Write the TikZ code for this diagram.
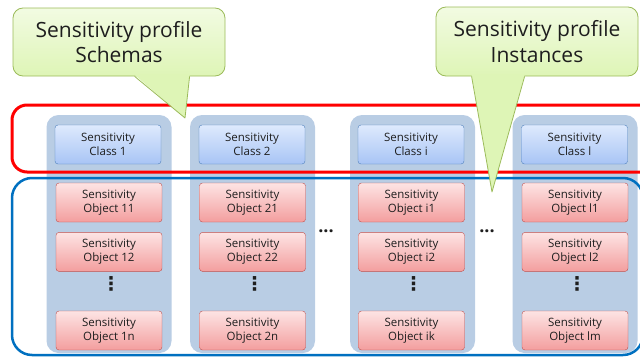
\documentclass[tikz,border=0pt]{standalone}
\usepackage{fontspec}
\setmainfont{Open Sans}
\newfontfamily\symfont{DejaVu Sans}
\usepackage{xcolor}
\usetikzlibrary{shapes,arrows.meta,positioning,calc,fit}

\definecolor{colbg}{RGB}{185,205,228}
\definecolor{clstop}{RGB}{222,234,253}
\definecolor{clsbot}{RGB}{168,196,245}
\definecolor{clsline}{RGB}{79,129,189}
\definecolor{objtop}{RGB}{253,228,228}
\definecolor{objbot}{RGB}{243,158,158}
\definecolor{objline}{RGB}{192,80,77}
\definecolor{calltop}{RGB}{242,251,226}
\definecolor{callbot}{RGB}{222,245,182}
\definecolor{callline}{RGB}{155,187,89}
\definecolor{frameblue}{RGB}{0,112,192}
\definecolor{txt}{RGB}{30,30,30}

\begin{document}
\begin{tikzpicture}[
    x=1pt, y=1pt,
    column/.style={rectangle, rounded corners=12pt, fill=colbg, minimum width=125pt, minimum height=238pt},
    cls/.style={rectangle, rounded corners=3pt, draw=clsline, top color=clstop, bottom color=clsbot,
        minimum width=106pt, minimum height=39pt, inner sep=0pt, align=center, text=txt,
        font=\fontsize{11.5}{14.5}\selectfont},
    obj/.style={cls, draw=objline, top color=objtop, bottom color=objbot},
    callout/.style={rectangle, rounded corners=10pt, draw=callline, thick, top color=calltop, bottom color=callbot,
        align=center, text=txt, inner sep=0pt, font=\fontsize{21}{25.5}\selectfont},
    tail/.style={callline, thick, line join=round},
    vdots/.style={inner sep=0pt, text=txt, font=\symfont\bfseries\fontsize{19}{19}\selectfont},
    hdots/.style={inner sep=0pt, text=txt, font=\bfseries\fontsize{18}{18}\selectfont}
]
\useasboundingbox (0,0) rectangle (640,360);

% Columns
\node[column] (col1) at (109,126) {};
\node[column] (col2) at (252.5,126) {};
\node[column] (coli) at (412.5,126) {};
\node[column] (coll) at (575,126) {};

% Sensitivity classes
\node[cls] (c1) at (108,215.5) {Sensitivity\\Class 1};
\node[cls] (c2) at (252,215.5) {Sensitivity\\Class 2};
\node[cls] (ci) at (411,215.5) {Sensitivity\\Class i};
\node[cls] (cl) at (574.5,215.5) {Sensitivity\\Class l};

% Sensitivity objects
\node[obj] (o11) at (109,157.5) {Sensitivity\\Object 11};
\node[obj, below=10pt of o11] (o12) {Sensitivity\\Object 12};
\node[obj] (o1n) at (109,29.5) {Sensitivity\\Object 1n};
\node[vdots] (d1) at (111,76) {⋮};

\node[obj] (o21) at (252.5,157.5) {Sensitivity\\Object 21};
\node[obj, below=10pt of o21] (o22) {Sensitivity\\Object 22};
\node[obj] (o2n) at (252.5,29.5) {Sensitivity\\Object 2n};
\node[vdots] (d2) at (254.5,76) {⋮};

\node[obj] (oi1) at (411.5,157.5) {Sensitivity\\Object i1};
\node[obj, below=10pt of oi1] (oi2) {Sensitivity\\Object i2};
\node[obj] (oik) at (411.5,29.5) {Sensitivity\\Object ik};
\node[vdots] (d3) at (413.5,76) {⋮};

\node[obj] (ol1) at (575,157.5) {Sensitivity\\Object l1};
\node[obj, below=10pt of ol1] (ol2) {Sensitivity\\Object l2};
\node[obj] (olm) at (575,29.5) {Sensitivity\\Object lm};
\node[vdots] (d4) at (577,76) {⋮};

% Dots between columns
\node[hdots] (h1) at (326,129) {...};
\node[hdots] (h2) at (487,129) {...};

% Frames
\draw[red, line width=3pt, rounded corners=15pt] (12,188) rectangle (665,255);
\draw[frameblue, line width=2.5pt, rounded corners=20pt] (12,5) rectangle (643,182);

% Callouts
\node[callout, minimum width=212pt, minimum height=68pt] (schemas) at (119,318) {Sensitivity profile\\Schemas};
\coordinate (stip) at (185,242);
\fill[callbot] ($(schemas.south west)+(122,1.5)$) -- (stip) -- ($(schemas.south west)+(177,1.5)$) -- cycle;
\draw[tail] ($(schemas.south west)+(122,0)$) -- (stip) -- ($(schemas.south west)+(177,0)$);

\node[callout, minimum width=202pt, minimum height=69pt] (instances) at (537,318.5) {Sensitivity profile\\Instances};
\coordinate (itip) at (492,168);
\fill[callbot] ($(instances.south west)+(36,1.5)$) -- (itip) -- ($(instances.south west)+(89,1.5)$) -- cycle;
\draw[tail] ($(instances.south west)+(36,0)$) -- (itip) -- ($(instances.south west)+(89,0)$);
\end{tikzpicture}
\end{document}
